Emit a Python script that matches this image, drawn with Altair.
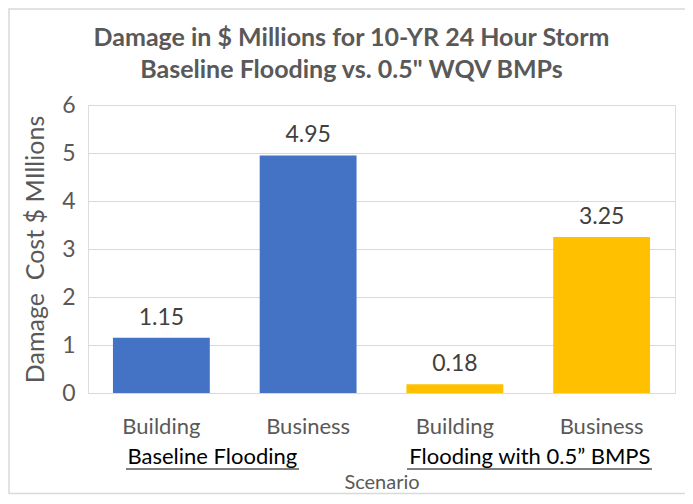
import altair as alt
import pandas as pd

groups = ["Baseline Flooding", "Baseline Flooding", "Flooding with 0.5\u201d BMPS", "Flooding with 0.5\u201d BMPS"]
categories = ["Building", "Business", "Building", "Business"]
values = [1.15, 4.95, 0.18, 3.25]
colors = ["#4472C4", "#4472C4", "#FFC000", "#FFC000"]
group_labels = ["Baseline Flooding", "Flooding with 0.5\u201d BMPS"]
y_ticks = [0, 1, 2, 3, 4, 5, 6]

keys = [f"{g}|{c}" for g, c in zip(groups, categories)]
df = pd.DataFrame({"key": keys, "group": groups, "cat": categories,
                   "value": values, "color": colors,
                   "label": [f"{v:.2f}" for v in values]})

FONT = "Lato"
GRAY = "#595959"
W, H = 587, 288

x = alt.X("key:N", sort=keys, scale=alt.Scale(paddingInner=0.34, paddingOuter=0.17),
          axis=alt.Axis(title="Scenario", labelExpr="split(datum.label, '|')[1]",
                        labelAngle=0, labelFontSize=22, labelColor=GRAY, labelFont=FONT,
                        labelPadding=23, ticks=False, domainColor="#d9d9d9",
                        titleFontSize=20, titleColor=GRAY, titleFont=FONT,
                        titleFontWeight="normal", titlePadding=35))
y = alt.Y("value:Q", scale=alt.Scale(domain=[0, 6]),
          axis=alt.Axis(title="Damage\u00a0 Cost $ MIllions", values=y_ticks,
                        labelFontSize=23, labelColor=GRAY, labelFont=FONT, labelPadding=13,
                        ticks=False, domain=False, gridColor="#d9d9d9",
                        titleFontSize=25, titleColor=GRAY, titleFont=FONT,
                        titleFontWeight="normal", titlePadding=13))

base = alt.Chart(df)
bars = base.mark_bar().encode(x=x, y=y, color=alt.Color("color:N", scale=None))
texts = base.mark_text(dy=-8, baseline="bottom", fontSize=23, font=FONT, color="#404040").encode(
    x=x, y=y, text="label:N")

g1 = alt.Chart(pd.DataFrame({"key": [keys[0]], "t": [group_labels[0]]})).mark_text(
    fontSize=22, font=FONT, color="#000000", baseline="alphabetic", xOffset=51).encode(
    x=alt.X("key:N", sort=keys), y=alt.value(359), text="t:N")
g2 = alt.Chart(pd.DataFrame({"key": [keys[2]], "t": [group_labels[1]]})).mark_text(
    fontSize=22, font=FONT, color="#000000", baseline="alphabetic", xOffset=75).encode(
    x=alt.X("key:N", sort=keys), y=alt.value(359), text="t:N")
u1 = alt.Chart(pd.DataFrame({"a": [0]})).mark_rule(color="#000000", strokeWidth=1).encode(
    x=alt.value(38), x2=alt.value(211), y=alt.value(364))
u2 = alt.Chart(pd.DataFrame({"a": [0]})).mark_rule(color="#000000", strokeWidth=1).encode(
    x=alt.value(319), x2=alt.value(564), y=alt.value(364))
border = alt.Chart(pd.DataFrame({"a": [0]})).mark_rect(fill=None, stroke="#d9d9d9", strokeWidth=1.5).encode(
    x=alt.value(-79), x2=alt.value(W + 40), y=alt.value(-96), y2=alt.value(H + 100.5))

chart = alt.layer(border, bars, texts, g1, g2, u1, u2).properties(
    width=W, height=H,
    title=alt.TitleParams(["Damage in $ Millions for 10-YR 24 Hour Storm",
                           "Baseline Flooding vs. 0.5\" WQV BMPs"],
                          fontSize=25, font=FONT, fontWeight="bold", color=GRAY,
                          anchor="middle", dx=-30, offset=-75, lineHeight=32),
    autosize=alt.AutoSizeParams(type="none"),
    padding={"left": 80, "top": 97, "right": 10, "bottom": 102},
).configure_view(stroke=None).configure(background="white")

chart.save("out.html", embed_options={"renderer": "svg", "actions": False})
